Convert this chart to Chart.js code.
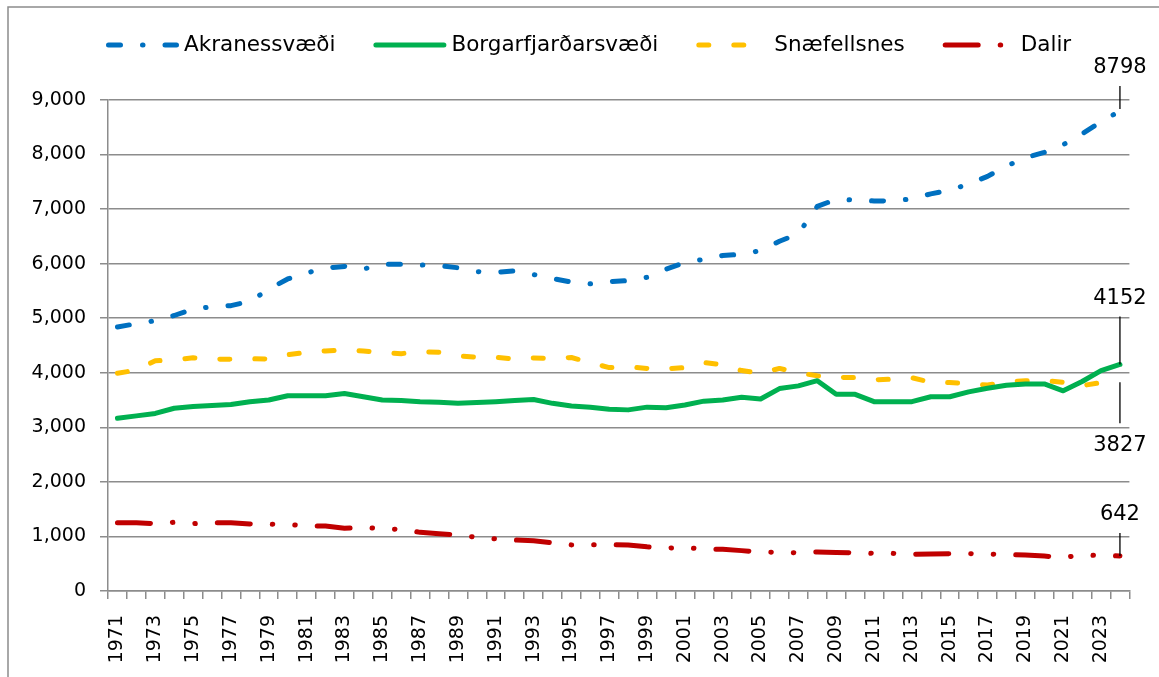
<!DOCTYPE html>
<html>
<head>
<meta charset="utf-8">
<script src="https://cdn.jsdelivr.net/npm/chart.js@4.4.1/dist/chart.umd.min.js"></script>
<style>
  body { margin: 0; background: #fff; }
  #wrap { width: 1159px; height: 677px; }
</style>
</head>
<body>
<div id="wrap"><canvas id="chart" width="1159" height="677"></canvas></div>
<script>
const years = [1971, 1972, 1973, 1974, 1975, 1976, 1977, 1978, 1979, 1980,
  1981, 1982, 1983, 1984, 1985, 1986, 1987, 1988, 1989, 1990,
  1991, 1992, 1993, 1994, 1995, 1996, 1997, 1998, 1999, 2000,
  2001, 2002, 2003, 2004, 2005, 2006, 2007, 2008, 2009, 2010,
  2011, 2012, 2013, 2014, 2015, 2016, 2017, 2018, 2019, 2020,
  2021, 2022, 2023, 2024];

const akranes = [4840, 4900, 4955, 5050, 5170, 5210, 5230, 5310, 5530, 5720,
  5830, 5920, 5950, 5900, 5990, 5990, 5975, 5965, 5925, 5855,
  5840, 5870, 5800, 5730, 5660, 5630, 5670, 5690, 5750, 5900,
  6020, 6080, 6150, 6170, 6240, 6410, 6550, 7050, 7180, 7165,
  7150, 7145, 7190, 7280, 7345, 7460, 7600, 7790, 7940, 8040,
  8180, 8380, 8600, 8798];

const borgarfjordur = [3165, 3210, 3255, 3350, 3380, 3400, 3420, 3470, 3500, 3580,
  3580, 3580, 3620, 3560, 3500, 3490, 3470, 3460, 3440, 3455,
  3470, 3490, 3510, 3440, 3390, 3370, 3330, 3320, 3370, 3360,
  3410, 3480, 3500, 3550, 3520, 3710, 3760, 3855, 3605, 3605,
  3470, 3470, 3470, 3560, 3560, 3650, 3715, 3770, 3795, 3795,
  3670, 3840, 4040, 4152];

const snaefellsnes = [3990, 4050, 4220, 4235, 4275, 4245, 4250, 4260, 4250, 4330,
  4375, 4400, 4420, 4400, 4370, 4350, 4390, 4375, 4310, 4285,
  4285, 4250, 4270, 4260, 4280, 4185, 4095, 4110, 4080, 4070,
  4095, 4190, 4145, 4040, 3990, 4080, 4000, 3945, 3910, 3915,
  3870, 3885, 3910, 3825, 3820, 3800, 3775, 3835, 3855, 3860,
  3825, 3765, 3820, 3827];

const dalir = [1250, 1250, 1235, 1260, 1235, 1250, 1250, 1230, 1225, 1220,
  1190, 1190, 1150, 1170, 1140, 1130, 1075, 1050, 1025, 985,
  955, 935, 920, 885, 845, 850, 850, 845, 810, 785,
  800, 765, 765, 740, 715, 710, 700, 715, 705, 700,
  690, 690, 670, 680, 685, 685, 680, 665, 660, 640,
  615, 660, 650, 642];

const seriesNames = ['Akranessvæði', 'Borgarfjarðarsvæði', 'Snæfellsnes', 'Dalir'];
const yMin = 0, yMax = 9000, yStep = 1000;

const FONT = '"DejaVu Sans", sans-serif';
const GRID = '#8c8c8c';

// where the last-value label sits relative to the last point (px)
const endLabelStyle = [
  { dy: -43, from: -25, to: -2 },
  { dy: -66, from: -48, to: 0 },
  { dy: 63, from: 0, to: 41 },
  { dy: -41, from: -23, to: 0 }
];

const frame = {
  id: 'frame',
  beforeDraw(chart) {
    const ctx = chart.ctx;
    ctx.save();
    ctx.fillStyle = '#fff';
    ctx.fillRect(0, 0, chart.width, chart.height);
    ctx.strokeStyle = GRID;
    ctx.lineWidth = 1.5;
    ctx.strokeRect(8, 7, 1300, 900);
    ctx.restore();
  }
};

const topLegend = {
  id: 'topLegend',
  afterDraw(chart) {
    const ctx = chart.ctx;
    const y = 45, symW = 68, textOff = 78, gap = 38;
    ctx.save();
    ctx.font = '21.5px ' + FONT;
    ctx.textBaseline = 'middle';
    ctx.fillStyle = '#000';
    let x = chart.chartArea.left - 2;
    chart.data.datasets.forEach(ds => {
      ctx.strokeStyle = ds.borderColor;
      ctx.lineWidth = 5;
      ctx.lineCap = 'round';
      ctx.setLineDash(ds.borderDash || []);
      ctx.beginPath();
      ctx.moveTo(x + 2.5, y);
      ctx.lineTo(x + 2.5 + symW, y);
      ctx.stroke();
      ctx.setLineDash([]);
      ctx.fillText(ds.label, x + textOff, y);
      x += textOff + ctx.measureText(ds.label).width + gap;
    });
    ctx.restore();
  }
};

const endLabels = {
  id: 'endLabels',
  afterDatasetsDraw(chart) {
    const ctx = chart.ctx;
    ctx.save();
    ctx.font = '21px ' + FONT;
    ctx.fillStyle = '#000';
    ctx.strokeStyle = '#000';
    ctx.lineWidth = 1.3;
    ctx.textAlign = 'center';
    ctx.textBaseline = 'middle';
    chart.data.datasets.forEach((ds, i) => {
      const meta = chart.getDatasetMeta(i);
      const pt = meta.data[meta.data.length - 1];
      const st = endLabelStyle[i];
      ctx.beginPath();
      ctx.moveTo(pt.x, pt.y + st.from);
      ctx.lineTo(pt.x, pt.y + st.to);
      ctx.stroke();
      ctx.fillText(String(ds.data[ds.data.length - 1]), pt.x, pt.y + st.dy);
    });
    ctx.restore();
  }
};

function line(label, data, color, dash) {
  return {
    label: label,
    data: data,
    borderColor: color,
    backgroundColor: color,
    borderWidth: 5,
    borderDash: dash,
    borderCapStyle: 'round',
    borderJoinStyle: 'round',
    pointRadius: 0,
    tension: 0,
    fill: false
  };
}

Chart.defaults.font.family = FONT;
Chart.defaults.color = '#000';

new Chart(document.getElementById('chart'), {
  type: 'line',
  data: {
    labels: years,
    datasets: [
      line(seriesNames[0], akranes, '#0070C0', [12, 22, 0.5, 22]),
      line(seriesNames[1], borgarfjordur, '#00B050', []),
      line(seriesNames[2], snaefellsnes, '#FFC000', [10, 25]),
      line(seriesNames[3], dalir, '#C00000', [33, 22, 0.5, 22, 0.5, 22])
    ]
  },
  options: {
    responsive: false,
    animation: false,
    layout: { padding: { left: 8, right: 28, top: 100, bottom: 0 } },
    plugins: {
      legend: { display: false },
      tooltip: { enabled: false }
    },
    scales: {
      x: {
        type: 'category',
        offset: true,
        grid: { offset: true, drawOnChartArea: false, drawTicks: true, tickLength: 8, color: GRID, lineWidth: 1.5 },
        border: { color: GRID, width: 1.5 },
        ticks: {
          autoSkip: false,
          maxRotation: 90,
          minRotation: 90,
          padding: 16,
          font: { size: 19 },
          color: '#000',
          callback: (v, i) => (i % 2 === 0 ? String(years[i]) : '')
        },
        afterFit: s => { s.height = 86; }
      },
      y: {
        min: yMin,
        max: yMax,
        ticks: {
          stepSize: yStep,
          padding: 14,
          font: { size: 19 },
          color: '#000',
          callback: v => v.toLocaleString('en-US')
        },
        grid: { color: GRID, lineWidth: 1.5, tickLength: 8 },
        border: { color: GRID, width: 1.5 },
        afterFit: s => { s.width = 100; }
      }
    }
  },
  plugins: [frame, topLegend, endLabels]
});
</script>
</body>
</html>
